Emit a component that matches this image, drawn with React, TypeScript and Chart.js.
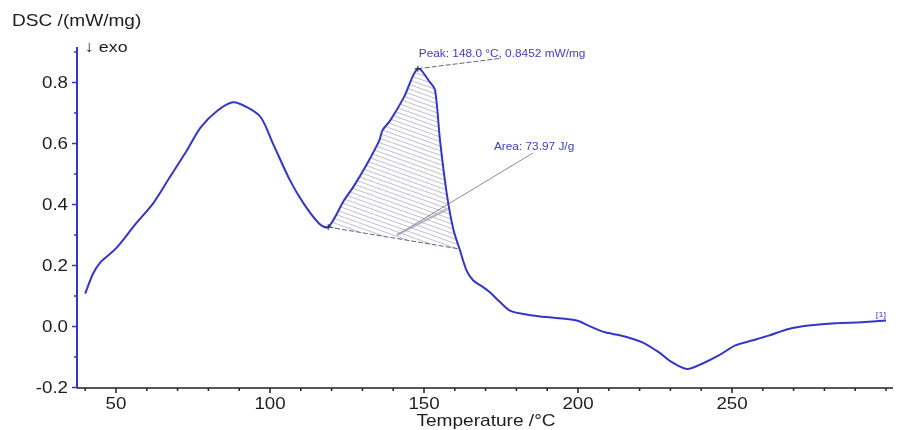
import React, { useEffect, useRef } from "react";
import { Chart, registerables } from "chart.js";
Chart.register(...registerables);

// ---- data ----
const temperatures = [
  40, 42.5, 45, 50, 56.5, 62, 67.5, 73, 77.5, 83, 88, 92.5, 97, 101, 106.5, 111, 116,
  118.9, 124, 127, 131.5, 135.5, 136.5, 139, 143.5, 148, 152, 153.6, 155.2, 157.4,
  159.5, 161.7, 163.8, 166, 169.2, 171.4, 174.7, 177.9, 182.2, 187.7, 193.1, 199.6,
  203.4, 208.8, 214.2, 220.7, 226.2, 230.5, 235.4, 240.3, 245.7, 251.1, 256.5,
  261.9, 268.4, 274.9, 283.5, 292.2, 300,
];
const dscValues = [
  0.108, 0.172, 0.211, 0.256, 0.338, 0.403, 0.49, 0.577, 0.653, 0.708, 0.735, 0.719, 0.686,
  0.599, 0.479, 0.402, 0.337, 0.326, 0.413, 0.457, 0.533, 0.61, 0.643, 0.675, 0.752,
  0.8452, 0.8, 0.774, 0.61, 0.435, 0.32, 0.249, 0.184, 0.151, 0.129, 0.112, 0.08,
  0.052, 0.041, 0.033, 0.028, 0.02, 0.003, -0.019, -0.03, -0.051, -0.084, -0.117,
  -0.139, -0.122, -0.095, -0.062, -0.046, -0.03, -0.008, 0.003, 0.011, 0.014, 0.02,
];
const baselineT = [118.9, 161.1];
const baselineV = [0.326, 0.255];
const peakT = 148.0;
const peakV = 0.8452;
const peakLabel = "Peak: 148.0 °C, 0.8452 mW/mg";
const areaLabel = "Area: 73.97 J/g";
const curveTag = "[1]";

const xMajorTicks = [50, 100, 150, 200, 250];
const xTickLabels = ["50", "100", "150", "200", "250"];
const xMinorTicks = [40, 60, 70, 80, 90, 110, 120, 130, 140, 160, 170, 180, 190, 210, 220, 230, 240, 260, 270, 280, 290, 300];
const yMajorTicks = [-0.2, 0, 0.2, 0.4, 0.6, 0.8];
const yTickLabels = ["-0.2", "0.0", "0.2", "0.4", "0.6", "0.8"];
const yMinorTicks = [-0.1, 0.1, 0.3, 0.5, 0.7, 0.9];

const yTitle = "DSC /(mW/mg)";
const xTitle = "Temperature /°C";
const exoLabel = "↓ exo";

// ---- styling ----
const FONT = "'Liberation Sans', Arial, sans-serif";
const STRETCH = 1.15;
const CURVE = "#3535c6";
const TEXT = "#1e1e1e";
const ANNOT = "#4040c0";

function drawText(ctx: CanvasRenderingContext2D, text: string, x: number, y: number, size: number, align: CanvasTextAlign, color: string, baseline: CanvasTextBaseline = "middle") {
  ctx.save();
  ctx.translate(x, y);
  ctx.scale(STRETCH, 1);
  ctx.font = `${size}px ${FONT}`;
  ctx.fillStyle = color;
  ctx.textAlign = align;
  ctx.textBaseline = baseline;
  ctx.fillText(text, 0, 0);
  ctx.restore();
}

const hatchPlugin = {
  id: "hatchArea",
  beforeDatasetsDraw(chart: any) {
    const { ctx, scales, chartArea } = chart;
    const xs = scales.x, ys = scales.y;
    ctx.save();
    ctx.beginPath();
    ctx.moveTo(xs.getPixelForValue(baselineT[0]), ys.getPixelForValue(baselineV[0]));
    for (let i = 0; i < temperatures.length; i++) {
      const t = temperatures[i];
      if (t >= baselineT[0] && t <= baselineT[1]) {
        ctx.lineTo(xs.getPixelForValue(t), ys.getPixelForValue(dscValues[i]));
      }
    }
    ctx.lineTo(xs.getPixelForValue(baselineT[1]), ys.getPixelForValue(baselineV[1]));
    ctx.closePath();
    ctx.clip();
    ctx.strokeStyle = "rgba(120,120,155,0.6)";
    ctx.lineWidth = 0.8;
    const slope = 0.36;
    const w = chartArea.right - chartArea.left;
    for (let k = -w * slope; k < chartArea.bottom - chartArea.top; k += 4.6) {
      ctx.beginPath();
      ctx.moveTo(chartArea.left, chartArea.top + k);
      ctx.lineTo(chartArea.right, chartArea.top + k + slope * w);
      ctx.stroke();
    }
    ctx.restore();
  },
};

const axesPlugin = {
  id: "dscAxes",
  afterDatasetsDraw(chart: any) {
    const { ctx, scales, chartArea } = chart;
    const xs = scales.x, ys = scales.y;
    const { left, right, top, bottom } = chartArea;
    ctx.save();
    // y axis
    ctx.strokeStyle = CURVE;
    ctx.lineWidth = 2;
    ctx.beginPath();
    ctx.moveTo(left, top);
    ctx.lineTo(left, bottom);
    ctx.stroke();
    ctx.lineWidth = 1.5;
    yMajorTicks.forEach((v, i) => {
      const y = ys.getPixelForValue(v);
      ctx.beginPath();
      ctx.moveTo(left - 5, y);
      ctx.lineTo(left, y);
      ctx.stroke();
      drawText(ctx, yTickLabels[i], left - 9, y + 1, 16.3, "right", TEXT);
    });
    yMinorTicks.forEach((v) => {
      const y = ys.getPixelForValue(v);
      ctx.beginPath();
      ctx.moveTo(left - 3, y);
      ctx.lineTo(left, y);
      ctx.stroke();
    });
    // x axis
    ctx.strokeStyle = "#202020";
    ctx.lineWidth = 1.5;
    ctx.beginPath();
    ctx.moveTo(left, bottom);
    ctx.lineTo(right, bottom);
    ctx.stroke();
    xMajorTicks.forEach((v, i) => {
      const x = xs.getPixelForValue(v);
      ctx.beginPath();
      ctx.moveTo(x, bottom);
      ctx.lineTo(x, bottom + 5);
      ctx.stroke();
      drawText(ctx, xTickLabels[i], x, bottom + 17, 16.3, "center", TEXT);
    });
    xMinorTicks.forEach((v) => {
      const x = xs.getPixelForValue(v);
      ctx.beginPath();
      ctx.moveTo(x, bottom);
      ctx.lineTo(x, bottom + 3);
      ctx.stroke();
    });
    // titles
    drawText(ctx, yTitle, 12, 21, 16.6, "left", TEXT);
    drawText(ctx, exoLabel, 85, 48, 15.5, "left", TEXT);
    drawText(ctx, xTitle, 486, 421, 16.6, "center", TEXT);

    // annotations
    const px = xs.getPixelForValue(peakT), py = ys.getPixelForValue(peakV);
    ctx.strokeStyle = "rgba(70,70,110,0.85)";
    ctx.lineWidth = 1;
    ctx.setLineDash([5, 2]);
    ctx.beginPath();
    ctx.moveTo(px, py);
    ctx.lineTo(xs.getPixelForValue(174.7), ys.getPixelForValue(0.879));
    ctx.stroke();
    ctx.beginPath();
    ctx.moveTo(xs.getPixelForValue(baselineT[0]), ys.getPixelForValue(baselineV[0]));
    ctx.lineTo(xs.getPixelForValue(baselineT[1]), ys.getPixelForValue(baselineV[1]));
    ctx.stroke();
    ctx.setLineDash([]);
    // area leader
    ctx.strokeStyle = "rgba(90,90,130,0.8)";
    ctx.lineWidth = 0.9;
    ctx.beginPath();
    ctx.moveTo(xs.getPixelForValue(185.4), ys.getPixelForValue(0.569));
    ctx.lineTo(xs.getPixelForValue(141.2), ys.getPixelForValue(0.3));
    ctx.stroke();
    ctx.strokeStyle = "rgba(160,160,180,0.7)";
    ctx.lineWidth = 2.5;
    ctx.beginPath();
    ctx.moveTo(xs.getPixelForValue(157.5), ys.getPixelForValue(0.385));
    ctx.lineTo(xs.getPixelForValue(141.2), ys.getPixelForValue(0.3));
    ctx.stroke();
    // crosses
    ctx.strokeStyle = "#303040";
    ctx.lineWidth = 1;
    const cross = (t: number, v: number) => {
      const x = xs.getPixelForValue(t), y = ys.getPixelForValue(v);
      ctx.beginPath();
      ctx.moveTo(x - 3, y); ctx.lineTo(x + 3, y);
      ctx.moveTo(x, y - 3); ctx.lineTo(x, y + 3);
      ctx.stroke();
    };
    cross(baselineT[0], baselineV[0]);
    cross(peakT, peakV);
    drawText(ctx, peakLabel, xs.getPixelForValue(148.3), ys.getPixelForValue(0.893), 10.3, "left", ANNOT);
    drawText(ctx, areaLabel, xs.getPixelForValue(172.7), ys.getPixelForValue(0.588), 10.3, "left", ANNOT);
    drawText(ctx, curveTag, xs.getPixelForValue(296.7), ys.getPixelForValue(0.038), 8, "left", ANNOT);
    ctx.restore();
  },
};

export default function App() {
  const ref = useRef<HTMLCanvasElement | null>(null);
  useEffect(() => {
    document.body.style.margin = "0";
    const canvas = ref.current!;
    const chart = new Chart(canvas, {
      type: "line",
      data: {
        datasets: [
          {
            label: "DSC",
            data: temperatures.map((t, i) => ({ x: t, y: dscValues[i] })),
            borderColor: CURVE,
            borderWidth: 2,
            pointRadius: 0,
            tension: 0.3,
            fill: false,
          },
        ],
      },
      options: {
        animation: false,
        responsive: false,
        maintainAspectRatio: false,
        layout: { padding: { left: 77, right: 6, top: 47, bottom: 42 } },
        plugins: { legend: { display: false }, tooltip: { enabled: false } },
        scales: {
          x: { type: "linear", min: 37.34, max: 302.27, display: false },
          y: { type: "linear", min: -0.2016, max: 0.9164, display: false },
        },
      },
      plugins: [hatchPlugin, axesPlugin],
    });
    return () => chart.destroy();
  }, []);
  return (
    <div style={{ width: 899, height: 430, background: "#fff" }}>
      <canvas ref={ref} width={899} height={430} style={{ display: "block" }} />
    </div>
  );
}
